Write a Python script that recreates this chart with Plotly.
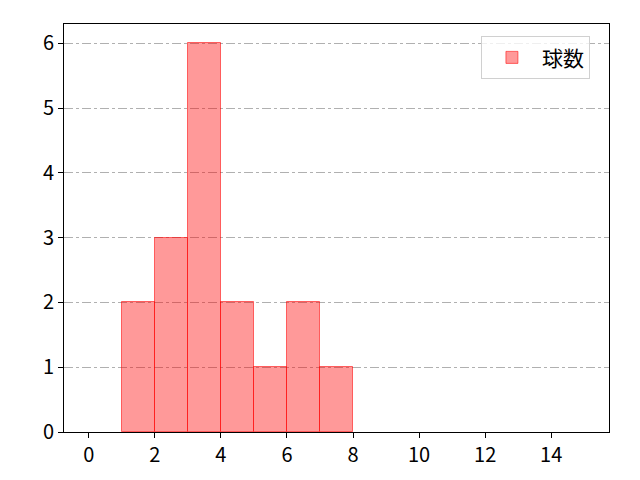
import plotly.graph_objects as go

bin_left = [1, 2, 3, 4, 5, 6, 7]
counts = [2, 3, 6, 2, 1, 2, 1]
x_ticks = [0, 2, 4, 6, 8, 10, 12, 14]
y_ticks = [0, 1, 2, 3, 4, 5, 6]

font = "Noto Sans CJK JP"

fig = go.Figure()
fig.add_trace(go.Bar(
    x=bin_left, y=counts, offset=0, width=1, name="球数",
    marker=dict(color="rgba(255,0,0,0.4)", line=dict(color="rgba(255,0,0,0.55)", width=1)),
    showlegend=True,
))

axis_common = dict(
    showline=True, linecolor="black", linewidth=1, mirror=True,
    ticks="outside", ticklen=5, tickcolor="black", tickwidth=1,
    tickfont=dict(family=font, size=20, color="black"), zeroline=False,
)
fig.update_xaxes(range=[-0.75, 15.75], tickvals=x_ticks, showgrid=False, **axis_common)
fig.update_yaxes(range=[0, 6.3], tickvals=y_ticks, showgrid=True, gridcolor="#b0b0b0",
                 griddash="dashdot", gridwidth=0.8, **axis_common)

# page body adds 8px offset, so margins are shifted to compensate
fig.update_layout(
    width=640, height=480,
    margin=dict(l=56, r=39, t=16, b=56),
    plot_bgcolor="white", paper_bgcolor="white",
    font=dict(family=font, size=20, color="black"),
    legend=dict(x=0.965, y=0.97, xanchor="right", yanchor="top",
                bgcolor="rgba(255,255,255,0.8)", bordercolor="#d0d0d0", borderwidth=1,
                font=dict(family=font, size=21), itemwidth=50),
    bargap=0,
)
fig.write_html("out.html")
